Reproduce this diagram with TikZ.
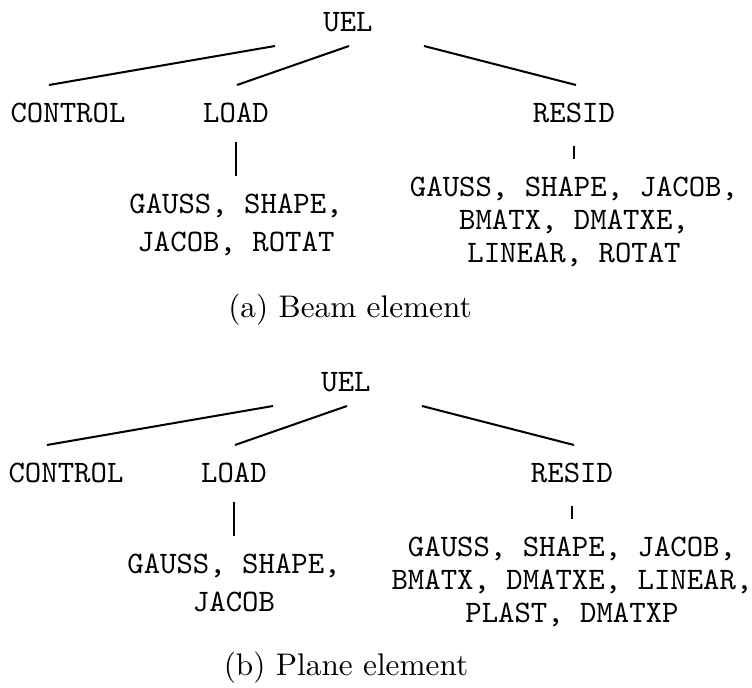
\documentclass[tikz,border=0pt]{standalone}
\usepackage{tikz}
\usetikzlibrary{calc,positioning}

\begin{document}
\begin{tikzpicture}[x=0.32pt, y=-0.32pt, black, text=black,
       every node/.style={inner sep=0pt},
       routine/.style={font=\ttfamily, anchor=base},
       calls/.style={font=\ttfamily\fontsize{10}{#1}\selectfont, align=center, anchor=north},
       calls/.default=10.6pt,
       branch/.style={line width=0.65pt},
       stub/.style={line width=0.5pt},
       subcaption/.style={font=\normalsize, anchor=base}]
	\useasboundingbox (0,0) rectangle (752,688);

	%% Beam element
	\begin{scope}
		\node [routine] (uelA) at (348,32) {UEL};
		\node [routine] (ctrlA) at (68,123) {CONTROL};
		\node [routine] (loadA) at (236,123) {LOAD};
		\node [routine] (residA) at (574,123) {RESID};
		\node [calls=12.4pt, below=22.4pt of loadA.base] (loadkidsA) {GAUSS, SHAPE,\\JACOB, ROTAT};
		\node [calls, below=17pt of residA.base] (residkidsA) {GAUSS, SHAPE, JACOB,\\BMATX, DMATXE,\\LINEAR, ROTAT};
		\node [subcaption] (capA) at (350,318) {(a) Beam element};
		%% Branches
		\draw [branch] ($(uelA.base)+(-73,14)$) -- ($(ctrlA.base)+(-19,-38)$);
		\draw [branch] ($(uelA.base)+(1,14)$) -- ($(loadA.base)+(1,-38)$);
		\draw [branch] ($(uelA.base)+(76,14)$) -- ($(residA.base)+(2,-38)$);
		\draw [stub] ($(loadA.base)+(0,19)$) -- ($(loadkidsA.north)+(0,-17)$);
		\draw [stub] ($(residA.base)+(0,23)$) -- ($(residkidsA.north)+(0,-17)$);
	\end{scope}

	%% Plane element
	\begin{scope}[shift={(-2,360)}]
		\node [routine] (uelB) at (348,32) {UEL};
		\node [routine] (ctrlB) at (68,123) {CONTROL};
		\node [routine] (loadB) at (236,123) {LOAD};
		\node [routine] (residB) at (574,123) {RESID};
		\node [calls=12.4pt, below=22.4pt of loadB.base] (loadkidsB) {GAUSS, SHAPE,\\JACOB};
		\node [calls, below=17pt of residB.base] (residkidsB) {GAUSS, SHAPE, JACOB,\\BMATX, DMATXE, LINEAR,\\PLAST, DMATXP};
		\node [subcaption] (capB) at (348,316) {(b) Plane element};
		%% Branches
		\draw [branch] ($(uelB.base)+(-73,14)$) -- ($(ctrlB.base)+(-19,-38)$);
		\draw [branch] ($(uelB.base)+(1,14)$) -- ($(loadB.base)+(1,-38)$);
		\draw [branch] ($(uelB.base)+(76,14)$) -- ($(residB.base)+(2,-38)$);
		\draw [stub] ($(loadB.base)+(0,19)$) -- ($(loadkidsB.north)+(0,-17)$);
		\draw [stub] ($(residB.base)+(0,23)$) -- ($(residkidsB.north)+(0,-17)$);
	\end{scope}
\end{tikzpicture}
\end{document}
